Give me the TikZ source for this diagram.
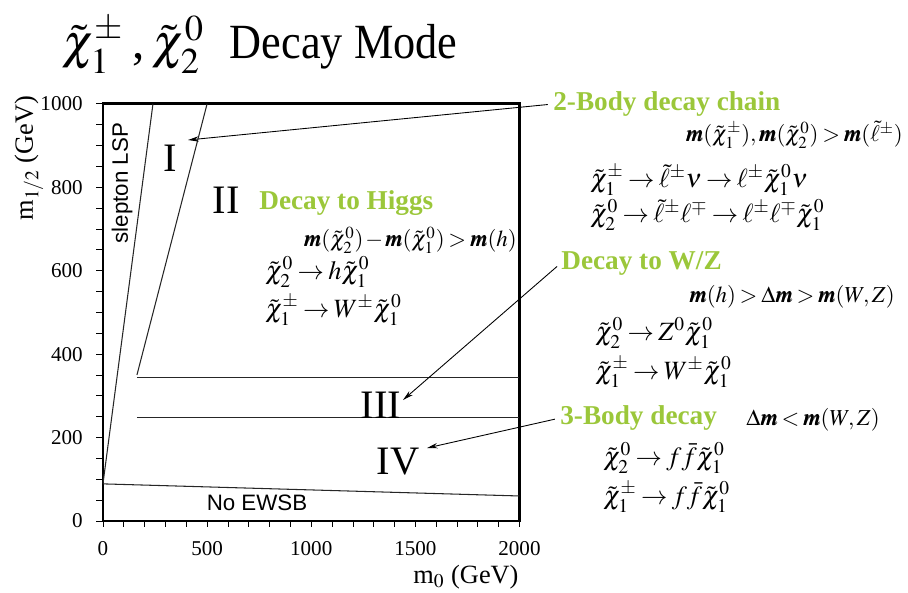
\documentclass[tikz,border=0pt]{standalone}
\usepackage{mathptmx}
\usepackage{fontspec}
\setmainfont{Liberation Serif}
\setsansfont{Liberation Sans}
\usepackage{bm}
\usetikzlibrary{arrows.meta}
\definecolor{decaygreen}{RGB}{155,199,58}
\newcommand\tightmath{\thickmuskip=3mu\relax\medmuskip=1.5mu\relax}

\tikzset{
  greenlabel/.style={font=\bfseries\fontsize{15.5}{17}\selectfont, text=decaygreen, anchor=west},
  formula/.style={font=\fontsize{15}{17}\selectfont\tightmath, anchor=west},
  condition/.style={font=\fontsize{13}{15}\selectfont\tightmath, anchor=east},
  regionlabel/.style={font=\fontsize{23}{25}\selectfont},
  boundary/.style={line width=0.6pt, draw=black!85},
  pointer/.style={-{Stealth[length=6pt,width=3pt]}, line width=0.5pt, shorten <=3pt},
  ticklabel/.style={font=\fontsize{12}{14}\selectfont},
  sidelabel/.style={font=\sffamily\fontsize{12.7}{14}\selectfont}
}

\begin{document}
\begin{tikzpicture}[x=0.02cm, y=-0.02cm, every node/.style={inner sep=0pt}]
    \useasboundingbox (0,0) rectangle (908,592);

    % 1. Titel
    \node[anchor=west, font=\fontsize{28}{30}\selectfont] (title) at (62,45)
        {$\tilde{\chi}_1^{\pm}$\,,\,$\tilde{\chi}_2^{0}$\; \scalebox{0.9}[1]{Decay Mode}};

    % 2. Achsenrahmen, Ticks und Grenzlinien (in GeV)
    \begin{scope}[shift={(103,521)}, x=0.00416cm, y=0.00834cm]
        \draw[line width=1.6pt] (0,0) rectangle (2000,1000);
        \foreach \t in {0,100,...,2000} \draw (\t,0) -- (\t,-15);
        \foreach \t in {0,50,...,1000} \draw (0,\t) -- (-36,\t);
        \foreach \t in {0,500,1000,1500,2000}
            \node[ticklabel] (xl\t) at (\t,-65) {\t};
        \foreach \t in {0,200,...,1000}
            \node[ticklabel, anchor=east] (yl\t) at (-96,\t) {\t};

        \draw[boundary] (0,90) -- (240,1000);     % slepton LSP
        \draw[boundary] (163,350) -- (500,1000);  % I / II
        \draw[boundary] (163,345) -- (2000,345);  % II / III
        \draw[boundary] (163,247) -- (2000,247);  % III / IV
        \draw[boundary] (0,89) -- (2000,60);      % No EWSB
    \end{scope}

    % 3. Achsenbeschriftung
    \node[font=\fontsize{15}{17}\selectfont] (xaxis) at (466,577) {m$_0$ (GeV)};
    \node[font=\fontsize{15}{17}\selectfont, rotate=90] (yaxis) at (29,158) {m$_{1/2}$ (GeV)};

    % 4. Bereiche
    \node[regionlabel] (regI) at (170,158) {I};
    \node[regionlabel] (regII) at (226,200) {II};
    \node[regionlabel] (regIII) at (381,405) {III};
    \node[regionlabel] (regIV) at (398,462) {IV};
    \node[sidelabel, rotate=90] (slepton) at (122,183) {slepton LSP};
    \node[sidelabel] (ewsb) at (257,503) {No EWSB};

    % 5. Zerfallskanaele
    \node[greenlabel] (higgs) at (259,203) {Decay to Higgs};
    \node[condition] (h1) at (517,240) {$\bm{m}(\tilde{\chi}_2^{0})-\bm{m}(\tilde{\chi}_1^{0})>\bm{m}(h)$};
    \node[formula] (h2) at (265,272) {$\tilde{\chi}_2^{0}\rightarrow h\tilde{\chi}_1^{0}$};
    \node[formula] (h3) at (265,310) {$\tilde{\chi}_1^{\pm}\rightarrow W^{\pm}\tilde{\chi}_1^{0}$};

    \node[greenlabel] (twobody) at (553,104) {2-Body decay chain};
    \node[condition] (c1) at (903,135) {$\bm{m}(\tilde{\chi}_1^{\pm}),\bm{m}(\tilde{\chi}_2^{0})>\bm{m}(\tilde{\ell}^{\pm})$};
    \node[formula] (c2) at (590,180) {$\tilde{\chi}_1^{\pm}\rightarrow\tilde{\ell}^{\pm}\nu\rightarrow\ell^{\pm}\tilde{\chi}_1^{0}\nu$};
    \node[formula] (c3) at (590,215) {$\tilde{\chi}_2^{0}\rightarrow\tilde{\ell}^{\pm}\ell^{\mp}\rightarrow\ell^{\pm}\ell^{\mp}\tilde{\chi}_1^{0}$};

    \node[greenlabel] (wz) at (561,263) {Decay to W/Z};
    \node[condition] (wz1) at (895,297) {$\bm{m}(h)>\Delta\bm{m}>\bm{m}(W,Z)$};
    \node[formula] (wz2) at (595,333) {$\tilde{\chi}_2^{0}\rightarrow Z^{0}\tilde{\chi}_1^{0}$};
    \node[formula] (wz3) at (595,372) {$\tilde{\chi}_1^{\pm}\rightarrow W^{\pm}\tilde{\chi}_1^{0}$};

    \node[greenlabel] (threebody) at (560,418) {3-Body decay};
    \node[condition] (t1) at (880,420) {$\Delta\bm{m}<\bm{m}(W,Z)$};
    \node[formula] (t2) at (603,458) {$\tilde{\chi}_2^{0}\rightarrow f\bar{f}\tilde{\chi}_1^{0}$};
    \node[formula] (t3) at (603,497) {$\tilde{\chi}_1^{\pm}\rightarrow f\bar{f}\tilde{\chi}_1^{0}$};

    % 6. Pfeile zu den Bereichen
    \coordinate (tipI) at (188,140);
    \coordinate (tipIII) at (403,400);
    \coordinate (tipIV) at (427,448);
    \draw[pointer] (twobody.west) -- (tipI);
    \draw[pointer] (wz.west) -- (tipIII);
    \draw[pointer] (threebody.west) -- (tipIV);
\end{tikzpicture}
\end{document}
